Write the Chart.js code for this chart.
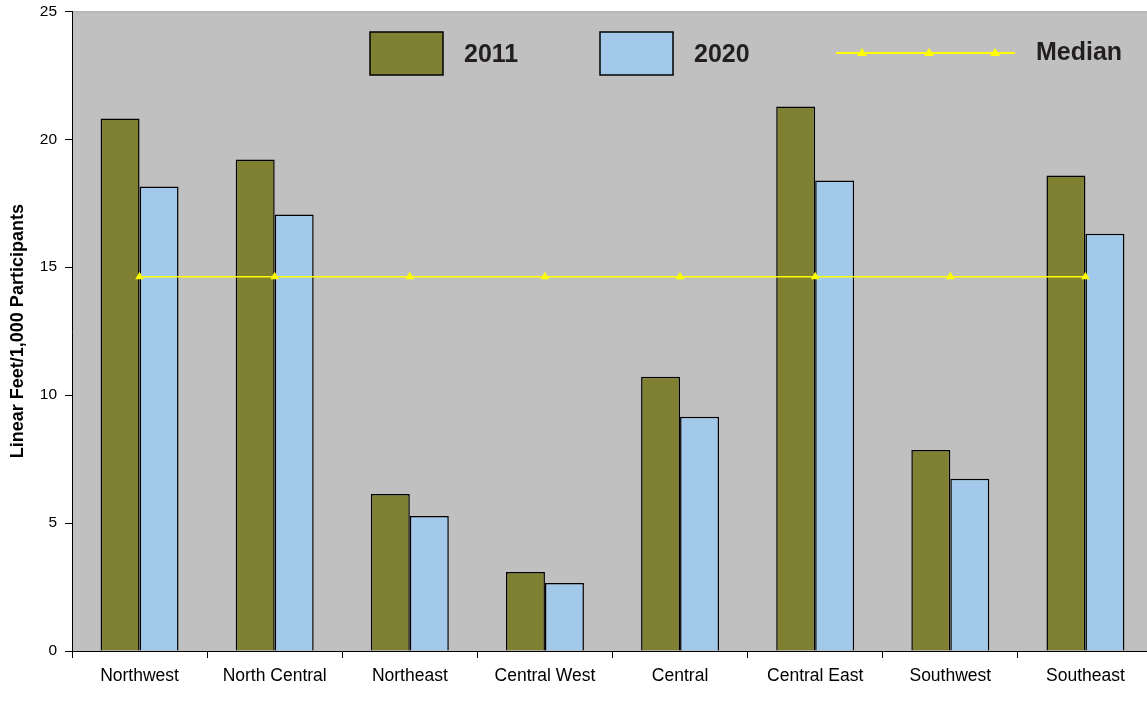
<!DOCTYPE html>
<html>
<head>
<meta charset="utf-8">
<script src="https://cdn.jsdelivr.net/npm/chart.js@4/dist/chart.umd.min.js"></script>
<style>
html,body{margin:0;padding:0;background:#fff;overflow:hidden;}
#wrap{width:1147px;height:701px;position:relative;overflow:hidden;}
#c{position:absolute;left:0;top:-6px;}
</style>
</head>
<body>
<div id="wrap"><canvas id="c" width="1158" height="707"></canvas></div>
<script>
const categories = ["Northwest","North Central","Northeast","Central West","Central","Central East","Southwest","Southeast"];
const values2011 = [20.81, 19.21, 6.14, 3.09, 10.72, 21.28, 7.86, 18.58];
const values2020 = [18.15, 17.06, 5.28, 2.66, 9.15, 18.39, 6.73, 16.31];
const medianValues = [14.63, 14.63, 14.63, 14.63, 14.63, 14.63, 14.63, 14.63];
const yTicks = [0, 5, 10, 15, 20, 25];

const C2011 = '#808033';
const C2020 = '#a2c9ea';
const CMED = '#ffff00';
const FONT = '"Liberation Sans", Arial, sans-serif';
const DY = 6; // canvas is shifted up by 6px in the page

const bgPlugin = {
  id: 'plotBg',
  beforeDraw(chart) {
    const {ctx, chartArea:a} = chart;
    ctx.save();
    ctx.fillStyle = '#c0c0c0';
    ctx.fillRect(a.left, a.top, a.right - a.left, a.bottom - a.top);
    ctx.fillStyle = '#a8a8a8';
    ctx.fillRect(a.left, a.top, a.right - a.left, 1);
    ctx.restore();
  }
};

const legendPlugin = {
  id: 'insideLegend',
  afterDatasetsDraw(chart) {
    const ctx = chart.ctx;
    ctx.save();
    ctx.translate(0, DY);
    ctx.font = 'bold 25px ' + FONT;
    ctx.textBaseline = 'middle';
    ctx.textAlign = 'left';
    const ds = chart.data.datasets;
    const boxes = [[370, ds[0]], [600, ds[1]]];
    boxes.forEach(([x, d]) => {
      ctx.fillStyle = d.backgroundColor;
      ctx.fillRect(x, 32, 73, 43);
      ctx.lineWidth = 1.5;
      ctx.strokeStyle = '#000';
      ctx.strokeRect(x, 32, 73, 43);
      ctx.fillStyle = '#231f20';
      ctx.fillText(d.label, x + 94, 55);
    });
    ctx.strokeStyle = CMED;
    ctx.lineWidth = 2;
    ctx.beginPath();
    ctx.moveTo(836, 53); ctx.lineTo(1015, 53);
    ctx.stroke();
    ctx.fillStyle = CMED;
    [862, 929, 995].forEach(x => {
      ctx.beginPath();
      ctx.moveTo(x, 48); ctx.lineTo(x + 5, 56); ctx.lineTo(x - 5, 56); ctx.closePath();
      ctx.fill();
    });
    ctx.fillStyle = '#231f20';
    ctx.fillText(ds[2].label, 1036, 53);
    ctx.restore();
  }
};

new Chart(document.getElementById('c'), {
  data: {
    labels: categories,
    datasets: [
      { type: 'bar', label: '2011', data: values2011, backgroundColor: C2011, borderColor: '#000', borderWidth: 1.5, order: 2, categoryPercentage: 0.577, barPercentage: 1.0 },
      { type: 'bar', label: '2020', data: values2020, backgroundColor: C2020, borderColor: '#000', borderWidth: 1.5, order: 2, categoryPercentage: 0.577, barPercentage: 1.0 },
      { type: 'line', label: 'Median', data: medianValues, borderColor: CMED, backgroundColor: CMED, borderWidth: 1.5, pointStyle: 'triangle', pointRadius: 5, pointBorderWidth: 0, order: 0 }
    ]
  },
  options: {
    responsive: false,
    animation: false,
    events: [],
    layout: { padding: { top: 11, right: 0, left: 0, bottom: 0 } },
    plugins: { legend: { display: false }, tooltip: { enabled: false }, title: { display: false } },
    scales: {
      x: {
        offset: true,
        grid: { offset: true, drawOnChartArea: false, drawTicks: true, tickLength: 7, color: '#000', lineWidth: 1 },
        border: { display: true, color: '#000', width: 1 },
        ticks: { color: '#000', font: { family: FONT, size: 17.5 }, padding: 8, maxRotation: 0, autoSkip: false },
        afterFit(s) { s.height = 50; }
      },
      y: {
        min: 0, max: 25,
        afterBuildTicks(s) { s.ticks = yTicks.map(v => ({ value: v })); },
        grid: { drawOnChartArea: false, drawTicks: true, tickLength: 7, color: '#000', lineWidth: 1 },
        border: { display: true, color: '#000', width: 1 },
        ticks: { color: '#000', font: { family: FONT, size: 15.5 }, padding: 8 },
        title: { display: true, text: 'Linear Feet/1,000 Participants', color: '#000', font: { family: FONT, size: 18, weight: 'bold' }, padding: { top: 7, bottom: 0 } },
        afterFit(s) { s.width = 72; }
      }
    }
  },
  plugins: [bgPlugin, legendPlugin]
});
</script>
</body>
</html>
